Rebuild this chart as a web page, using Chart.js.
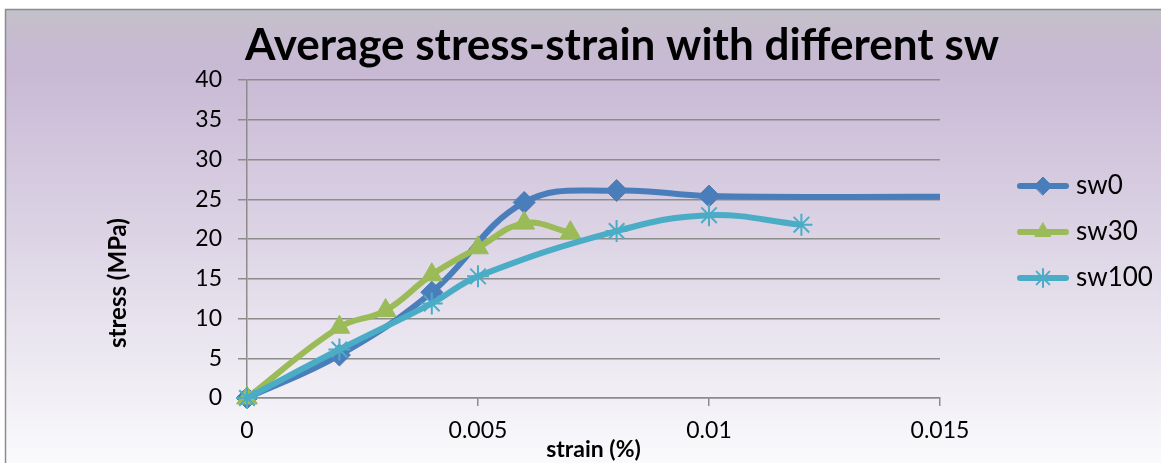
<!DOCTYPE html>
<html>
<head>
<meta charset="utf-8">
<script src="https://cdn.jsdelivr.net/npm/chart.js@4.4.1/dist/chart.umd.min.js"></script>
<style>
  html, body { margin: 0; padding: 0; background: #ffffff; }
  #wrap { width: 1161px; height: 463px; }
</style>
</head>
<body>
<div id="wrap"><canvas id="chart" width="1161" height="463"></canvas></div>
<script>
// values (strain in %, stress in MPa)
var sw0Strain = [0, 0.002, 0.004, 0.006, 0.008, 0.01, 0.015];
var sw0Stress = [0, 5.4, 13.3, 24.6, 26.1, 25.4, 25.3];

var sw30Strain = [0, 0.002, 0.003, 0.004, 0.005, 0.006, 0.007];
var sw30Stress = [0, 8.9, 11.0, 15.5, 18.9, 22.0, 20.8];

var sw100Strain = [0, 0.002, 0.004, 0.005, 0.008, 0.01, 0.012];
var sw100Stress = [0, 6.1, 11.9, 15.3, 21.0, 23.0, 21.8];

var seriesNames = ["sw0", "sw30", "sw100"];
var xTicks = [0, 0.005, 0.01, 0.015];
var yTicks = [0, 5, 10, 15, 20, 25, 30, 35, 40];

var chartTitle = "Average stress-strain with different sw";
var xTitle = "strain (%)";
var yTitle = "stress (MPa)";

var FONT = "Lato, 'Open Sans', sans-serif";

function toPoints(xs, ys) {
    return xs.map(function (x, i) { return { x: x, y: ys[i] }; });
}

// background, outer frame, title, y title and legend
var decorPlugin = {
    id: "decor",
    beforeDraw: function (chart) {
        var ctx = chart.ctx;
        ctx.save();
        var g = ctx.createLinearGradient(0, 9, 0, 463);
        g.addColorStop(0, "#c3c1c8");
        g.addColorStop(0.06, "#c6bccf");
        g.addColorStop(0.14, "#c9b9d5");
        g.addColorStop(0.5, "#dcd4e5");
        g.addColorStop(1, "#fafafc");
        ctx.fillStyle = g;
        ctx.fillRect(5, 9, 1156, 454);
        ctx.strokeStyle = "#8c8c8c";
        ctx.lineWidth = 1.5;
        ctx.beginPath();
        ctx.moveTo(5.5, 463);
        ctx.lineTo(5.5, 9.5);
        ctx.lineTo(1161, 9.5);
        ctx.stroke();
        ctx.restore();
    },
    afterDraw: function (chart) {
        var ctx = chart.ctx;
        ctx.save();
        ctx.fillStyle = "#000000";
        ctx.textAlign = "center";
        ctx.textBaseline = "middle";
        ctx.font = "bold 44px " + FONT;
        ctx.fillText(chartTitle, 622, 46);

        ctx.font = "bold 24px " + FONT;
        ctx.translate(118, 283);
        ctx.rotate(-Math.PI / 2);
        ctx.fillText(yTitle, 0, 0);
        ctx.restore();

        // legend: line + marker, then label
        ctx.save();
        chart.data.datasets.forEach(function (ds, i) {
            var y = 186 + i * 46;
            ctx.strokeStyle = ds.borderColor;
            ctx.lineWidth = 6;
            ctx.lineCap = "round";
            ctx.beginPath();
            ctx.moveTo(1020, y);
            ctx.lineTo(1066, y);
            ctx.stroke();
            ctx.fillStyle = ds.pointBackgroundColor;
            ctx.strokeStyle = ds.pointBorderColor;
            ctx.lineWidth = ds.pointBorderWidth;
            Chart.helpers.drawPoint(ctx, {
                pointStyle: ds.pointStyle,
                radius: 9,
                rotation: 0,
                borderWidth: ds.pointBorderWidth
            }, 1043, y);
            ctx.fillStyle = "#000000";
            ctx.font = "26px " + FONT;
            ctx.textAlign = "left";
            ctx.textBaseline = "middle";
            ctx.fillText(ds.label, 1076, y);
        });
        ctx.restore();
    }
};

var ctx = document.getElementById("chart").getContext("2d");

new Chart(ctx, {
    type: "line",
    data: {
        datasets: [
            {
                label: seriesNames[0],
                data: toPoints(sw0Strain, sw0Stress),
                borderColor: "#4a7ebb",
                backgroundColor: "#4a7ebb",
                pointBackgroundColor: "#4a7ebb",
                pointBorderColor: "#4a7ebb",
                pointBorderWidth: 1,
                pointStyle: "rectRot",
                pointRadius: function (c) {
                    return c.dataIndex === sw0Strain.length - 1 ? 0 : 11;
                },
                borderWidth: 6,
                tension: 0.4,
                clip: false,
                order: 3
            },
            {
                label: seriesNames[1],
                data: toPoints(sw30Strain, sw30Stress),
                borderColor: "#9bbb59",
                backgroundColor: "#9bbb59",
                pointBackgroundColor: "#9bbb59",
                pointBorderColor: "#9bbb59",
                pointBorderWidth: 1,
                pointStyle: "triangle",
                pointRadius: 12,
                borderWidth: 6,
                tension: 0.4,
                clip: false,
                order: 2
            },
            {
                label: seriesNames[2],
                data: toPoints(sw100Strain, sw100Stress),
                borderColor: "#4bacc6",
                backgroundColor: "#4bacc6",
                pointBackgroundColor: "#4bacc6",
                pointBorderColor: "#4bacc6",
                pointBorderWidth: 2,
                pointStyle: "star",
                pointRadius: 11,
                borderWidth: 6,
                tension: 0.4,
                clip: false,
                order: 1
            }
        ]
    },
    options: {
        responsive: false,
        animation: false,
        layout: { padding: { left: 0, top: 80, right: 221, bottom: 0 } },
        plugins: {
            legend: { display: false },
            title: { display: false },
            tooltip: { enabled: false }
        },
        scales: {
            x: {
                type: "linear",
                min: xTicks[0],
                max: xTicks[xTicks.length - 1],
                afterBuildTicks: function (axis) {
                    axis.ticks = xTicks.map(function (v) { return { value: v }; });
                },
                afterFit: function (axis) { axis.height = 65; },
                grid: {
                    drawOnChartArea: false,
                    drawTicks: true,
                    tickLength: 8,
                    color: "#8c8c8c",
                    lineWidth: 1.5
                },
                border: { display: true, color: "#8c8c8c", width: 1.5 },
                ticks: {
                    color: "#000000",
                    font: { family: FONT, size: 23 },
                    padding: 11,
                    maxRotation: 0,
                    callback: function (v) { return String(v); }
                },
                title: {
                    display: true,
                    text: xTitle,
                    color: "#000000",
                    font: { family: FONT, size: 23, weight: "bold" },
                    padding: { top: 0, bottom: 0 }
                }
            },
            y: {
                min: yTicks[0],
                max: yTicks[yTicks.length - 1],
                afterBuildTicks: function (axis) {
                    axis.ticks = yTicks.map(function (v) { return { value: v }; });
                },
                afterFit: function (axis) { axis.width = 247; },
                grid: {
                    color: "#8c8c8c",
                    lineWidth: 1.5,
                    tickLength: 9
                },
                border: { display: true, color: "#8c8c8c", width: 1.5 },
                ticks: {
                    color: "#000000",
                    font: { family: FONT, size: 23 },
                    padding: 16
                }
            }
        }
    },
    plugins: [decorPlugin]
});
</script>
</body>
</html>
